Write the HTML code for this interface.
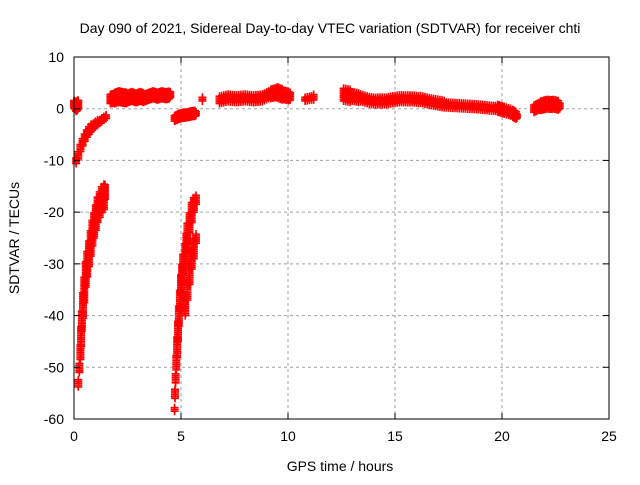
<!DOCTYPE html>
<html><head><meta charset="utf-8"><style>
body{margin:0;background:#fff}
svg text{font-family:"Liberation Sans",sans-serif;font-size:14px;fill:#000}
</style></head><body>
<svg id="chart" width="640" height="480">
<text x="330" y="33" text-anchor="middle">Day 090 of 2021, Sidereal Day-to-day VTEC variation (SDTVAR) for receiver chti</text>
<text x="340" y="471" text-anchor="middle">GPS time / hours</text>
<text transform="translate(19,238) rotate(-90)" text-anchor="middle">SDTVAR / TECUs</text>
<g id="grid"></g><g id="marks"></g><g id="axes"></g>
</svg>
<script>
const xTicks=[0,5,10,15,20,25];
const yTicks=[10,0,-10,-20,-30,-40,-50,-60];
// [hour, value, spread]
const arcTop=[[0.1,-10,0.6],[0.2,-9,0.7],[0.3,-7.5,0.8],[0.4,-6.4,0.8],[0.5,-5.5,0.8],[0.6,-4.8,0.7],[0.7,-4.2,0.7],[0.8,-3.7,0.7],[0.9,-3.3,0.6],[1.0,-2.9,0.6],[1.1,-2.6,0.6],[1.2,-2.3,0.5],[1.3,-2,0.5],[1.4,-1.7,0.5],[1.5,-1.5,0.4]];
const arcLow=[[0.2,-53,0.8],[0.25,-50,1],[0.3,-47,1.5],[0.33,-44,2],[0.37,-41,2],[0.42,-38,2.5],[0.48,-35,2.5],[0.55,-32,2.5],[0.62,-30,2.5],[0.7,-28,2.5],[0.78,-26,2.5],[0.86,-24,2.5],[0.94,-22.5,2.5],[1.02,-21,2.5],[1.1,-19.5,2.5],[1.2,-18.5,2.5],[1.3,-17.5,2.5],[1.4,-17,2.5],[1.45,-16,1.5]];
const arcMid=[[4.7,-58,0.5],[4.72,-55,1],[4.75,-52,1],[4.78,-49,1.5],[4.82,-46,2],[4.86,-43,2],[4.9,-40,2],[4.95,-37,2],[5.0,-34,2],[5.05,-32,2],[5.1,-30,2],[5.2,-28,2],[5.25,-26,2],[5.3,-24,2],[5.4,-22,2],[5.5,-20,2],[5.6,-18.5,1.5],[5.7,-17.5,1],[5.2,-38,2],[5.3,-35,2],[5.4,-32,2],[5.5,-29,2],[5.6,-27,2],[5.7,-25,1]];
const band=[[0.0,1,0.8],[0.1,0.5,1],[0.2,1,0.8],[1.7,2,1],[1.9,2.2,1.2],[2.1,2.5,1.2],[2.3,2.3,1.2],[2.5,2.2,1],[2.7,2.5,1],[2.9,2.2,1],[3.1,2.5,1],[3.3,2.2,0.8],[3.5,2.5,0.8],[3.7,2.8,0.8],[3.9,2.5,0.8],[4.1,2.8,0.8],[4.3,2.6,0.8],[4.5,2.8,0.6],[4.7,-1.8,0.6],[4.9,-1.4,0.6],[5.1,-1.2,0.6],[5.3,-1.1,0.6],[5.5,-0.9,0.6],[5.7,-0.8,0.5],[6.0,2,0.5],[6.8,1.8,0.8],[7.2,2.2,0.8],[7.6,2,0.8],[8.0,2.2,0.8],[8.4,2,0.8],[8.8,2.2,0.8],[9.2,3,1],[9.5,3.3,1.2],[9.8,2.8,1],[10.1,2.5,0.8],[10.8,2,0.5],[11.2,2.3,0.6],[12.6,2.8,1.3],[13.0,2.5,1],[13.4,2.2,0.8],[13.8,1.7,0.8],[14.2,1.5,0.7],[14.6,1.5,0.7],[15.0,1.8,0.7],[15.4,2,0.8],[15.8,2,0.8],[16.2,1.8,0.7],[16.6,1.4,0.7],[17.0,1.1,0.7],[17.4,0.8,0.6],[17.8,0.7,0.6],[18.2,0.6,0.6],[18.6,0.5,0.6],[19.0,0.4,0.6],[19.4,0.2,0.6],[19.8,0.1,0.7],[20.1,-0.3,0.7],[20.5,-0.8,0.8],[20.7,-1.3,0.5],[21.5,0.1,0.8],[21.8,0.7,1],[22.1,1,1],[22.4,0.9,0.9],[22.7,0.6,0.6]];
const X0=74,X1=609,Y0=57,Y1=419;
const sx=v=>X0+(v-0)/25*(X1-X0);
const sy=v=>Y0+(10-v)/70*(Y1-Y0);
const NS='http://www.w3.org/2000/svg';
function mk(t,a,p){const e=document.createElementNS(NS,t);for(const k in a)e.setAttribute(k,a[k]);p.appendChild(e);return e;}
const grid=document.getElementById('grid'),axes=document.getElementById('axes'),marks=document.getElementById('marks');
xTicks.forEach(t=>{const x=sx(t);
 if(t>0&&t<25){const g=mk('line',{x1:x,x2:x,y1:Y0,y2:Y1,stroke:'#a0a0a0','stroke-dasharray':'3,3'},grid);
 
 }
 mk('line',{x1:x,x2:x,y1:Y1,y2:Y1-6,stroke:'#000'},axes);mk('line',{x1:x,x2:x,y1:Y0,y2:Y0+6,stroke:'#000'},axes);
 const l=mk('text',{x:x,y:Y1+22,'text-anchor':'middle'},axes);l.textContent=t;
 
 });
yTicks.forEach(t=>{const y=sy(t);
 if(t<10&&t>-60){const g=mk('line',{x1:X0,x2:X1,y1:y,y2:y,stroke:'#a0a0a0','stroke-dasharray':'3,3'},grid);
 
 }
 mk('line',{x1:X0,x2:X0+6,y1:y,y2:y,stroke:'#000'},axes);mk('line',{x1:X1,x2:X1-6,y1:y,y2:y,stroke:'#000'},axes);
 const l=mk('text',{x:X0-10,y:y+5,'text-anchor':'end'},axes);l.textContent=t;
 
 });
const fr=mk('rect',{x:X0,y:Y0,width:X1-X0,height:Y1-Y0,fill:'none',stroke:'#000'},axes);


function drawSet(arr,name){arr.forEach(p=>{const x=sx(p[0]);
 for(let o=-p[2];o<=p[2]+1e-6;o+=0.35){const y=sy(p[1]+o);
  const g=mk('path',{d:`M${x-4},${y}h8M${x},${y-4}v8`,stroke:'#ff0000','stroke-width':1.6,fill:'none'},marks);
  
  }
});}
drawSet(arcTop,'sdtvar-point');drawSet(arcLow,'sdtvar-point');drawSet(arcMid,'sdtvar-point');
band.forEach((p,i)=>{const n=band[i+1];
 if(n&&n[0]-p[0]<0.5&&Math.abs(n[1]-p[1])<1.5){const steps=4;for(let k=1;k<steps;k++){const f=k/steps;
  drawSet([[p[0]+(n[0]-p[0])*f,p[1]+(n[1]-p[1])*f,p[2]]],'sdtvar-point');}}});
drawSet(band,'sdtvar-point');
</script>
</body></html>
